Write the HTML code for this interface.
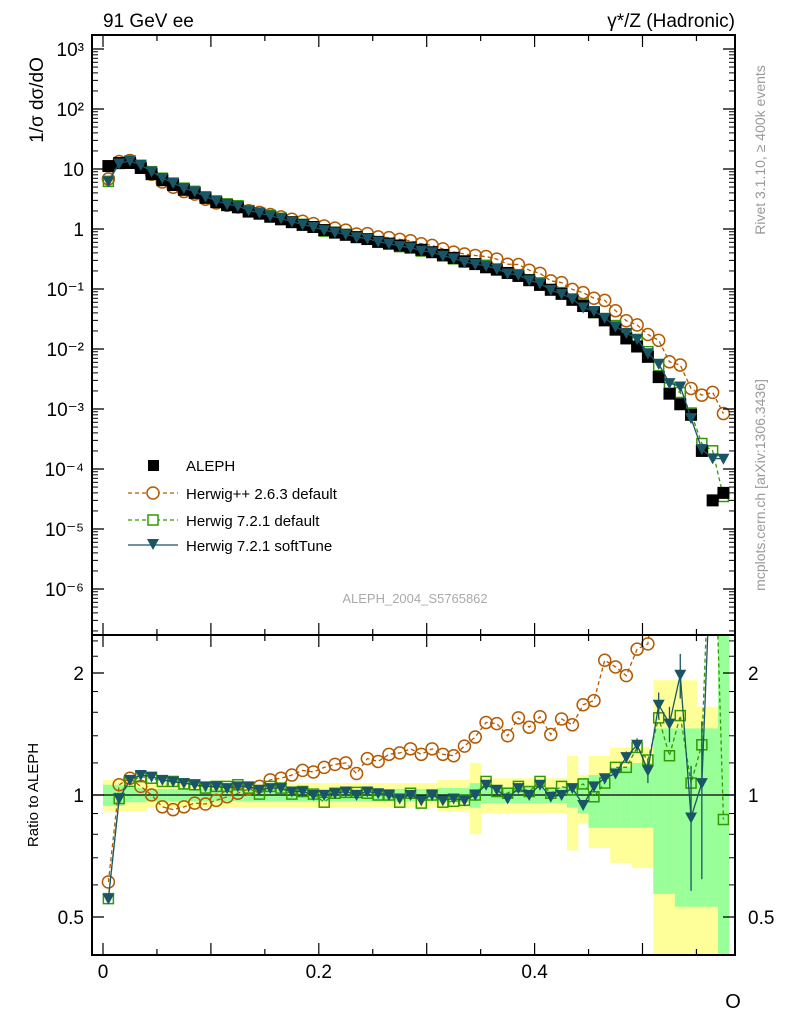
<!DOCTYPE html>
<html><head><meta charset="utf-8"><style>
html,body{margin:0;padding:0;background:#fff;}
svg{display:block;font-family:"Liberation Sans",sans-serif;}
</style></head><body>
<svg id="chart" width="786" height="1024" viewBox="0 0 786 1024">
<rect x="0" y="0" width="786" height="1024" fill="#fff"/>
<g id="ratioBands"></g>
<g id="mainPlot"></g>
<g id="ratioPlot"></g>
<g id="axes"></g>
<text x="103" y="27" font-size="19">91 GeV ee</text>
<text x="735" y="27" font-size="19" text-anchor="end">γ*/Z (Hadronic)</text>
<text transform="translate(43,100) rotate(-90)" font-size="19" text-anchor="middle">1/σ  dσ/dO</text>
<text transform="translate(38,795) rotate(-90)" font-size="15" text-anchor="middle">Ratio to ALEPH</text>
<text x="733" y="1008" font-size="20" text-anchor="middle">O</text>
<text transform="translate(765,150) rotate(-90)" font-size="14" fill="#999" text-anchor="middle">Rivet 3.1.10, ≥ 400k events</text>
<text transform="translate(765,485) rotate(-90)" font-size="14" fill="#999" text-anchor="middle">mcplots.cern.ch [arXiv:1306.3436]</text>
<text x="415" y="603" font-size="13" fill="#aaa" text-anchor="middle">ALEPH_2004_S5765862</text>
<g font-size="15">
  <g><rect x="148" y="460" width="11" height="11" fill="#000"/><text x="186" y="471">ALEPH</text></g>
  <g><line x1="128" y1="493" x2="178" y2="493" stroke="#b35900" stroke-dasharray="4,3" stroke-width="1.3"/><circle cx="153" cy="493" r="6" fill="#fff" stroke="#b35900" stroke-width="1.5"/><text x="186" y="499">Herwig++ 2.6.3 default</text></g>
  <g><line x1="128" y1="520" x2="178" y2="520" stroke="#339900" stroke-dasharray="4,3" stroke-width="1.3"/><rect x="148" y="515" width="10" height="10" fill="#fff" stroke="#339900" stroke-width="1.5"/><text x="186" y="526">Herwig 7.2.1 default</text></g>
  <g><line x1="128" y1="545" x2="178" y2="545" stroke="#1a5566" stroke-width="1.3"/><path d="M147,539 L159,539 L153,550 Z" fill="#1a5566"/><text x="186" y="551">Herwig 7.2.1 softTune</text></g>
</g>
</svg>
<script>
const aleph=[11.2,12.6,12.6,10.4,8.2,6.5,5.4,4.5,4.0,3.3,2.8,2.5,2.3,1.95,1.8,1.6,1.45,1.3,1.17,1.08,0.96,0.87,0.8,0.73,0.68,0.61,0.57,0.53,0.49,0.45,0.41,0.37,0.33,0.29,0.26,0.23,0.21,0.185,0.165,0.14,0.117,0.097,0.083,0.066,0.052,0.041,0.030,0.021,0.015,0.011,0.0074,0.0034,0.0018,0.0012,0.0008,0.0002,0.00003,0.00004];
const ratioHpp=[0.61,1.06,1.10,1.05,1.0,0.935,0.92,0.935,0.955,0.95,0.97,0.99,1.01,1.035,1.05,1.09,1.10,1.12,1.15,1.14,1.17,1.19,1.2,1.13,1.23,1.21,1.26,1.27,1.30,1.26,1.30,1.26,1.25,1.32,1.39,1.51,1.50,1.40,1.55,1.47,1.56,1.41,1.54,1.49,1.67,1.71,2.15,2.07,1.97,2.29,2.36,4.1,3.4,4.5,2.75,8.5,63,21];
const ratioH7=[0.555,0.98,1.08,1.11,1.10,1.08,1.08,1.065,1.06,1.04,1.05,1.05,1.06,1.04,1.005,1.05,1.04,1.005,1.02,1.005,0.96,1.01,1.015,1.015,1.01,1.0,1.0,0.96,1.01,0.955,1.0,0.96,0.965,0.97,1.0,1.08,1.02,1.01,1.05,1.02,1.08,1.01,1.05,1.03,1.065,0.99,1.07,1.17,1.17,1.31,1.22,1.55,1.25,1.57,1.07,1.33,6.7,0.87];
const ratioSoft=[0.555,0.98,1.09,1.12,1.11,1.09,1.08,1.07,1.06,1.05,1.05,1.04,1.05,1.05,1.03,1.04,1.04,1.02,1.02,1.0,1.0,1.01,1.02,1.0,1.02,1.01,1.0,0.98,1.0,0.97,1.0,0.97,0.98,0.97,1.0,1.06,1.03,0.98,1.04,1.0,1.06,0.99,1.0,1.04,0.945,1.05,1.1,1.13,1.24,1.33,1.15,1.67,1.5,1.98,0.88,1.07,5,3.7];
const softErr=[0,0,0,0,0,0,0,0,0,0,0,0,0,0,0,0,0,0,0,0,0,0,0,0,0,0,0,0,0,0,0,0,0,0,0,0,0,0,0,0,0,0,0,0,0.02,0.02,0.03,0.03,0.04,0.05,0.08,0.12,0.15,0.25,0.3,0.45,1,1];
const statLo=[0.06,0.06,0.04,0.04,0.035,0.035,0.035,0.035,0.035,0.035,0.035,0.035,0.035,0.035,0.035,0.035,0.035,0.035,0.035,0.035,0.035,0.035,0.035,0.035,0.035,0.035,0.035,0.035,0.035,0.035,0.035,0.04,0.04,0.04,0.07,0.045,0.045,0.045,0.045,0.045,0.045,0.045,0.045,0.07,0.1,0.17,0.17,0.17,0.17,0.17,0.17,0.43,0.43,0.47,0.47,0.47,0.47,1];
const statHi=[0.06,0.06,0.04,0.04,0.035,0.035,0.035,0.035,0.035,0.035,0.035,0.035,0.035,0.035,0.035,0.035,0.035,0.035,0.035,0.035,0.035,0.035,0.035,0.035,0.035,0.035,0.035,0.035,0.035,0.035,0.035,0.04,0.04,0.04,0.07,0.045,0.045,0.045,0.045,0.045,0.045,0.045,0.045,0.07,0.1,0.12,0.12,0.17,0.17,0.2,0.2,0.46,0.46,0.46,0.46,0.46,0.46,2];
const totLo=[0.09,0.09,0.09,0.09,0.07,0.07,0.07,0.07,0.07,0.07,0.07,0.07,0.07,0.07,0.07,0.07,0.07,0.07,0.07,0.07,0.07,0.07,0.07,0.07,0.07,0.07,0.07,0.07,0.07,0.07,0.07,0.09,0.09,0.09,0.2,0.1,0.1,0.1,0.1,0.1,0.1,0.1,0.1,0.27,0.15,0.26,0.26,0.32,0.32,0.34,0.34,1,1,1,1,1,1,1];
const totHi=[0.09,0.09,0.09,0.09,0.07,0.07,0.07,0.07,0.07,0.07,0.07,0.07,0.07,0.07,0.07,0.07,0.07,0.07,0.07,0.07,0.07,0.07,0.07,0.07,0.07,0.07,0.07,0.07,0.07,0.07,0.07,0.09,0.09,0.09,0.2,0.1,0.1,0.1,0.1,0.1,0.1,0.1,0.1,0.25,0.12,0.25,0.25,0.31,0.31,0.31,0.31,0.92,0.92,0.92,0.92,0.65,0.65,2];
const xTicks=[0,0.2,0.4];
const mainTickExp=[-6,-5,-4,-3,-2,-1,0,1,2,3];
const mainTickLabels=["10⁻⁶","10⁻⁵","10⁻⁴","10⁻³","10⁻²","10⁻¹","1","10","10²","10³"];
const ratioTicks=[0.5,1,2];
const ratioTickLabels=["0.5","1","2"];

const NS="http://www.w3.org/2000/svg";
const L=92,R=735,MT=35,MB=635,RB=955;
const X=v=>103+v*1079;
const Y=v=>229-60*Math.log10(v);
const YR=v=>795-122*Math.log2(v);
const binC=i=>0.005+0.01*i;
function mk(tag,attrs,parent){const e=document.createElementNS(NS,tag);for(const k in attrs)e.setAttribute(k,attrs[k]);parent.appendChild(e);return e;}
const main=document.getElementById('mainPlot'),rat=document.getElementById('ratioPlot'),bands=document.getElementById('ratioBands'),axes=document.getElementById('axes');
const clipY=(y,t,b)=>Math.max(t,Math.min(b,y));

for(let i=0;i<aleph.length;i++){
  const x0=X(binC(i)-0.005),x1=X(binC(i)+0.005);
  let lo=Math.max(1-totLo[i],0.01),hi=1+totHi[i];
  let y1=clipY(YR(hi),MB,RB),y2=clipY(YR(lo),MB,RB);
  const r1=mk('rect',{x:x0,y:y1,width:x1-x0+0.5,height:y2-y1,fill:'#ffff99'},bands);
  
  
  lo=Math.max(1-statLo[i],0.01);hi=1+statHi[i];
  y1=clipY(YR(hi),MB,RB);y2=clipY(YR(lo),MB,RB);
  const r2=mk('rect',{x:x0,y:y1,width:x1-x0+0.5,height:y2-y1,fill:'#99ff99'},bands);
  
  
}
const ref=mk('line',{x1:L,x2:R,y1:YR(1),y2:YR(1),stroke:'#000','stroke-width':1.2},rat);



function marker(type,cx,cy,parent,color){
  let e;
  if(type==='sqf')e=mk('rect',{x:cx-6,y:cy-6,width:12,height:12,fill:'#000'},parent);
  else if(type==='circ')e=mk('circle',{cx:cx,cy:cy,r:6,fill:'none',stroke:color,'stroke-width':1.5},parent);
  else if(type==='sqo')e=mk('rect',{x:cx-5,y:cy-5,width:10,height:10,fill:'none',stroke:color,'stroke-width':1.5},parent);
  else e=mk('path',{d:`M${cx-6},${cy-5} L${cx+6},${cy-5} L${cx},${cy+6} Z`,fill:color},parent);
  return e;
}
function series(ratios,color,dash,type,name){
  const gm=mk('g',{},main);
  
  
  let pts=[];
  for(let i=0;i<aleph.length;i++){const v=aleph[i]*ratios[i];pts.push([X(binC(i)),Y(v)]);}
  const pl=mk('polyline',{points:pts.map(p=>p.join(',')).join(' '),fill:'none',stroke:color,'stroke-width':1.3,'stroke-dasharray':dash},gm);
  
  
  pts.forEach(p=>{if(p[1]<MB){const m=marker(type,p[0],p[1],gm,color);
    
    }});
  const gr=mk('g',{},rat);
  
  
  const rp=ratios.map((r,i)=>[X(binC(i)),YR(r)]);
  const cp=mk('clipPath',{id:'cp'+name},gr);mk('rect',{x:L,y:MB,width:R-L,height:RB-MB},cp);
  const rl=mk('polyline',{points:rp.map(p=>p.join(',')).join(' '),fill:'none',stroke:color,'stroke-width':1.3,'stroke-dasharray':dash,'clip-path':`url(#cp${name})`},gr);
  
  
  rp.forEach(p=>{if(p[1]>MB+4&&p[1]<RB){const m=marker(type,p[0],p[1],gr,color);
    
    }});
  return gr;
}
const ga=mk('g',{},main);


series(ratioHpp,'#b35900','4,3','circ','herwigpp');
series(ratioH7,'#339900','4,3','sqo','herwig721');
for(let i=0;i<aleph.length;i++){const m=marker('sqf',X(binC(i)),Y(aleph[i]),ga);
  
  }
main.appendChild(ga);
const gs=series(ratioSoft,'#1a5566','','tri','softtune');
for(let i=0;i<ratioSoft.length;i++){if(softErr[i]>0){
  const x=X(binC(i)),y1=clipY(YR(ratioSoft[i]+softErr[i]),MB,RB),y2=clipY(YR(Math.max(ratioSoft[i]-softErr[i],0.3)),MB,RB);
  const e=mk('line',{x1:x,x2:x,y1:y1,y2:y2,stroke:'#1a5566','stroke-width':1.3},gs);
  
  }}
const f1=mk('rect',{x:L,y:MT,width:R-L,height:MB-MT,fill:'none',stroke:'#000','stroke-width':2},axes);


const f2=mk('rect',{x:L,y:MB,width:R-L,height:RB-MB,fill:'none',stroke:'#000','stroke-width':2},axes);


mainTickExp.forEach((e,k)=>{
  const y=Y(Math.pow(10,e));
  mk('line',{x1:L,x2:L+12,y1:y,y2:y,stroke:'#000','stroke-width':1.3},axes);
  mk('line',{x1:R-12,x2:R,y1:y,y2:y,stroke:'#000','stroke-width':1.3},axes);
  for(let m=2;m<10;m++){const ym=Y(m*Math.pow(10,e));if(ym>MT){
    mk('line',{x1:L,x2:L+6,y1:ym,y2:ym,stroke:'#000'},axes);mk('line',{x1:R-6,x2:R,y1:ym,y2:ym,stroke:'#000'},axes);}}
  const t=mk('text',{x:84,y:y+7,'font-size':19,'text-anchor':'end'},axes);t.textContent=mainTickLabels[k];
  
  
});
for(let m=2;m<10;m++){const ym=Y(m*1e-7);if(ym<MB){mk('line',{x1:L,x2:L+6,y1:ym,y2:ym,stroke:'#000'},axes);mk('line',{x1:R-6,x2:R,y1:ym,y2:ym,stroke:'#000'},axes);}}
ratioTicks.forEach((v,k)=>{const y=YR(v);
  mk('line',{x1:L,x2:L+12,y1:y,y2:y,stroke:'#000','stroke-width':1.3},axes);mk('line',{x1:R-12,x2:R,y1:y,y2:y,stroke:'#000','stroke-width':1.3},axes);
  const t=mk('text',{x:84,y:y+7,'font-size':19,'text-anchor':'end'},axes);t.textContent=ratioTickLabels[k];
  
  
  const t2=mk('text',{x:748,y:y+7,'font-size':19},axes);t2.textContent=ratioTickLabels[k];
  
  });
[0.6,0.7,0.8,0.9,1.2,1.4,1.6,1.8,2.2,2.4].forEach(v=>{const y=YR(v);if(y>MB&&y<RB){mk('line',{x1:L,x2:L+6,y1:y,y2:y,stroke:'#000'},axes);mk('line',{x1:R-6,x2:R,y1:y,y2:y,stroke:'#000'},axes);}});
for(let v=0;v<=0.59;v+=0.05){const x=X(v);const major=Math.abs(v/0.1-Math.round(v/0.1))<1e-6;const len=major?12:6;
  [[MT,1],[MB,-1],[MB,1],[RB,-1]].forEach(([y,d])=>mk('line',{x1:x,x2:x,y1:y,y2:y+d*len,stroke:'#000','stroke-width':1.2},axes));}
xTicks.forEach(v=>{const t=mk('text',{x:X(v),y:978,'font-size':19,'text-anchor':'middle'},axes);t.textContent=String(v);
  
  });
</script>
</body></html>
